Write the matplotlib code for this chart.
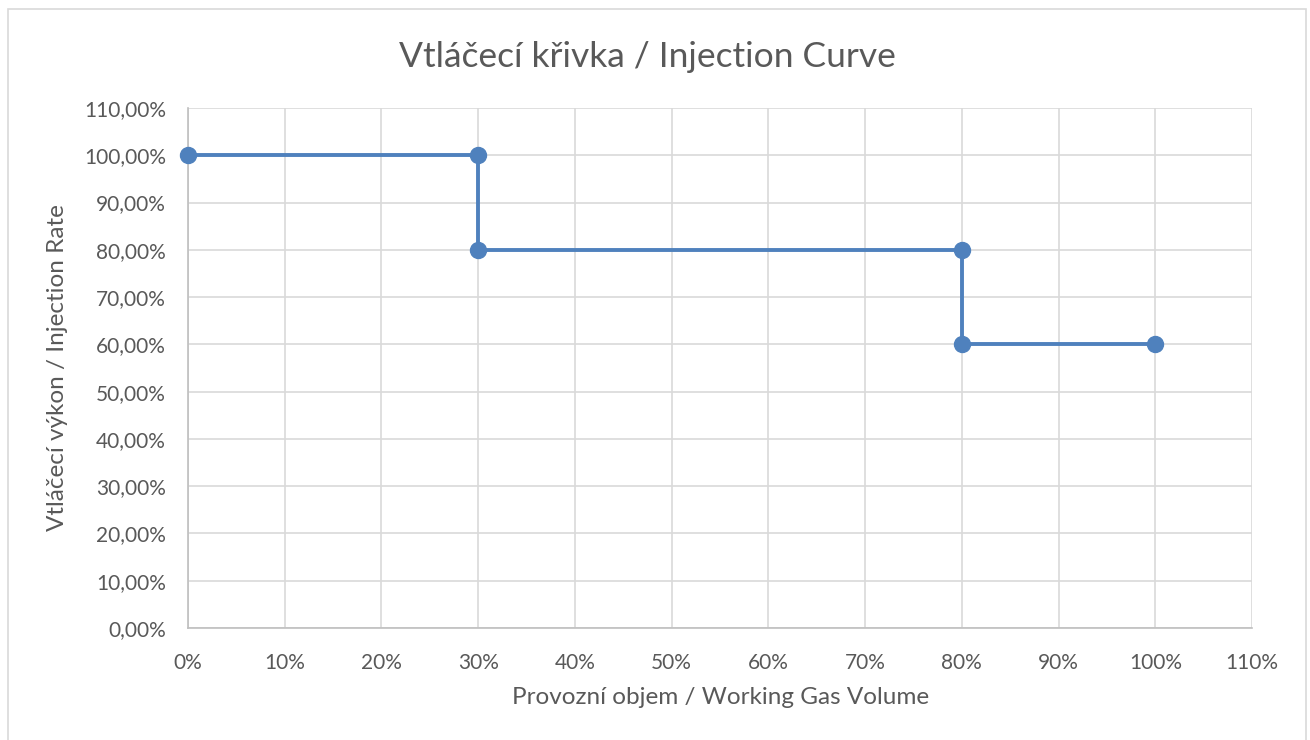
import matplotlib
matplotlib.use("Agg")
import matplotlib.pyplot as plt
from matplotlib.ticker import FuncFormatter, MultipleLocator
from matplotlib.patches import Rectangle

volume = [0.0, 0.30, 0.30, 0.80, 0.80, 1.00]
rate = [1.00, 1.00, 0.80, 0.80, 0.60, 0.60]

title = "Vtláčecí křivka / Injection Curve"
xlabel = "Provozní objem / Working Gas Volume"
ylabel = "Vtláčecí výkon / Injection Rate"

plt.rcParams['font.family'] = ['Lato', 'DejaVu Sans']
text_color = '#595959'
grid_color = '#D9D9D9'
line_color = '#4F81BD'

W, H = 1310, 740
fig = plt.figure(figsize=(13.1, 7.4), dpi=100)
fig.patches.append(Rectangle((8/W, -0.05), (1306-8)/W, 1 - 9/H + 0.05,
                             transform=fig.transFigure, fill=False,
                             edgecolor='#D9D9D9', linewidth=1.2))
ax = fig.add_axes([188/W, 1 - 628/H, (1252-188)/W, (628-108)/H])

ax.plot(volume, rate, color=line_color, linewidth=2.8, marker='o',
        markersize=11.5, clip_on=False, zorder=3)

ax.set_xlim(0, 1.10)
ax.set_ylim(0, 1.10)
ax.xaxis.set_major_locator(MultipleLocator(0.10))
ax.yaxis.set_major_locator(MultipleLocator(0.10))
ax.xaxis.set_major_formatter(FuncFormatter(lambda v, p: f"{round(v*100)}%"))
ax.yaxis.set_major_formatter(FuncFormatter(lambda v, p: f"{v*100:.2f}%".replace('.', ',')))

ax.grid(True, color=grid_color, linewidth=1.2)
ax.set_axisbelow(True)
for s in ['top', 'right']:
    ax.spines[s].set_visible(False)
for s in ['left', 'bottom']:
    ax.spines[s].set_color('#BFBFBF')
    ax.spines[s].set_linewidth(1.2)
ax.tick_params(length=0, labelsize=15, labelcolor=text_color)
ax.tick_params(axis='y', pad=16)
ax.tick_params(axis='x', pad=18)

fig.text(721/W, 1 - 697/H, xlabel, fontsize=17.5, color=text_color,
         ha='center', va='center')
fig.text(58/W, 1 - 368/H, ylabel, fontsize=17.5, color=text_color,
         ha='center', va='center', rotation=90)
fig.text(647/W, 1 - 57/H, title, fontsize=25.5, color=text_color,
         ha='center', va='center')

fig.savefig("out.png", dpi=100)
